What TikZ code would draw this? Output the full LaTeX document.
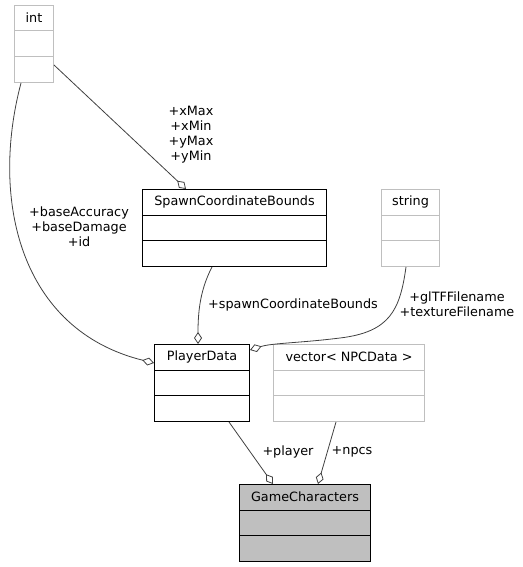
\documentclass[tikz,border=0pt]{standalone}
\usepackage{fontspec}
\setmainfont{DejaVu Sans}
\usetikzlibrary{calc}
\usetikzlibrary{arrows.meta}
\definecolor{boxgray}{HTML}{BFBFBF}
\definecolor{linegray}{HTML}{404040}

\begin{document}
\begin{tikzpicture}[x=1pt, y=-1pt, font=\fontsize{12.8}{15}\selectfont,
  assoc/.style={linegray, line width=.8pt, ->, >={Diamond[open, length=12pt, width=8pt]}},
  lbl/.style={align=center, inner sep=0}]
\useasboundingbox (0,0) rectangle (522,567);
% class boxes: name / left / top / width / title / border / fill
\foreach \n/\x/\y/\w/\t/\c/\f in {int/14/5/39/int/boxgray/white,
  scb/142/189/184/SpawnCoordinateBounds/black/white,
  str/381/189/58/string/boxgray/white,
  pd/154/344/95/PlayerData/black/white,
  vec/273/344/151/vector< NPCData >/boxgray/white,
  gc/239/484/131/GameCharacters/black/boxgray} {
 \node[draw=\c, fill=\f, line width=1pt, anchor=north west, minimum width=\w, minimum height=77, inner sep=0] (\n) at (\x,\y) {};
 \node[inner sep=0] (\n-title) at ($(\n.north)+(0,13)$) {\t};
 \draw[\c, line width=1pt] ($(\n.north west)+(0,26)$) -- ($(\n.north east)+(0,26)$);
 \draw[\c, line width=1pt] ($(\n.north west)+(0,51.5)$) -- ($(\n.north east)+(0,51.5)$);
}
% associations
\draw[assoc] ($(int.south east)+(0,-18)$) -- ($(scb.north west)+(44,0)$);
\node[lbl] (lxy) at (191,134.5) {+xMax\\+xMin\\+yMax\\+yMin};
\draw[assoc] ($(int.south west)+(7,0)$) .. controls (-10,200) and (20,330) .. ($(pd.north west)+(0,19)$);
\node[lbl] (lbase) at (79,227) {+baseAccuracy\\+baseDamage\\+id};
\draw[assoc] ($(scb.south west)+(70,0)$) .. controls (200,290) and (198,312) .. ($(pd.north west)+(44,0)$);
\node[lbl] (lspawn) at (293,305) {+spawnCoordinateBounds};
\draw[assoc] ($(str.south west)+(25,0)$) .. controls (400,310) and (390,332) .. (340,338) .. controls (300,343) and (272,343) .. ($(pd.north east)+(0,6)$);
\node[lbl] (lfile) at (457,304) {+glTFFilename\\+textureFilename};
\draw[assoc] ($(pd.south west)+(75,0)$) -- ($(gc.north west)+(34,0)$);
\node[lbl] (lplayer) at (288,452) {+player};
\draw[assoc] ($(vec.south west)+(63,0)$) -- ($(gc.north west)+(79,0)$);
\node[lbl] (lnpcs) at (352,452) {+npcs};
\end{tikzpicture}
\end{document}
